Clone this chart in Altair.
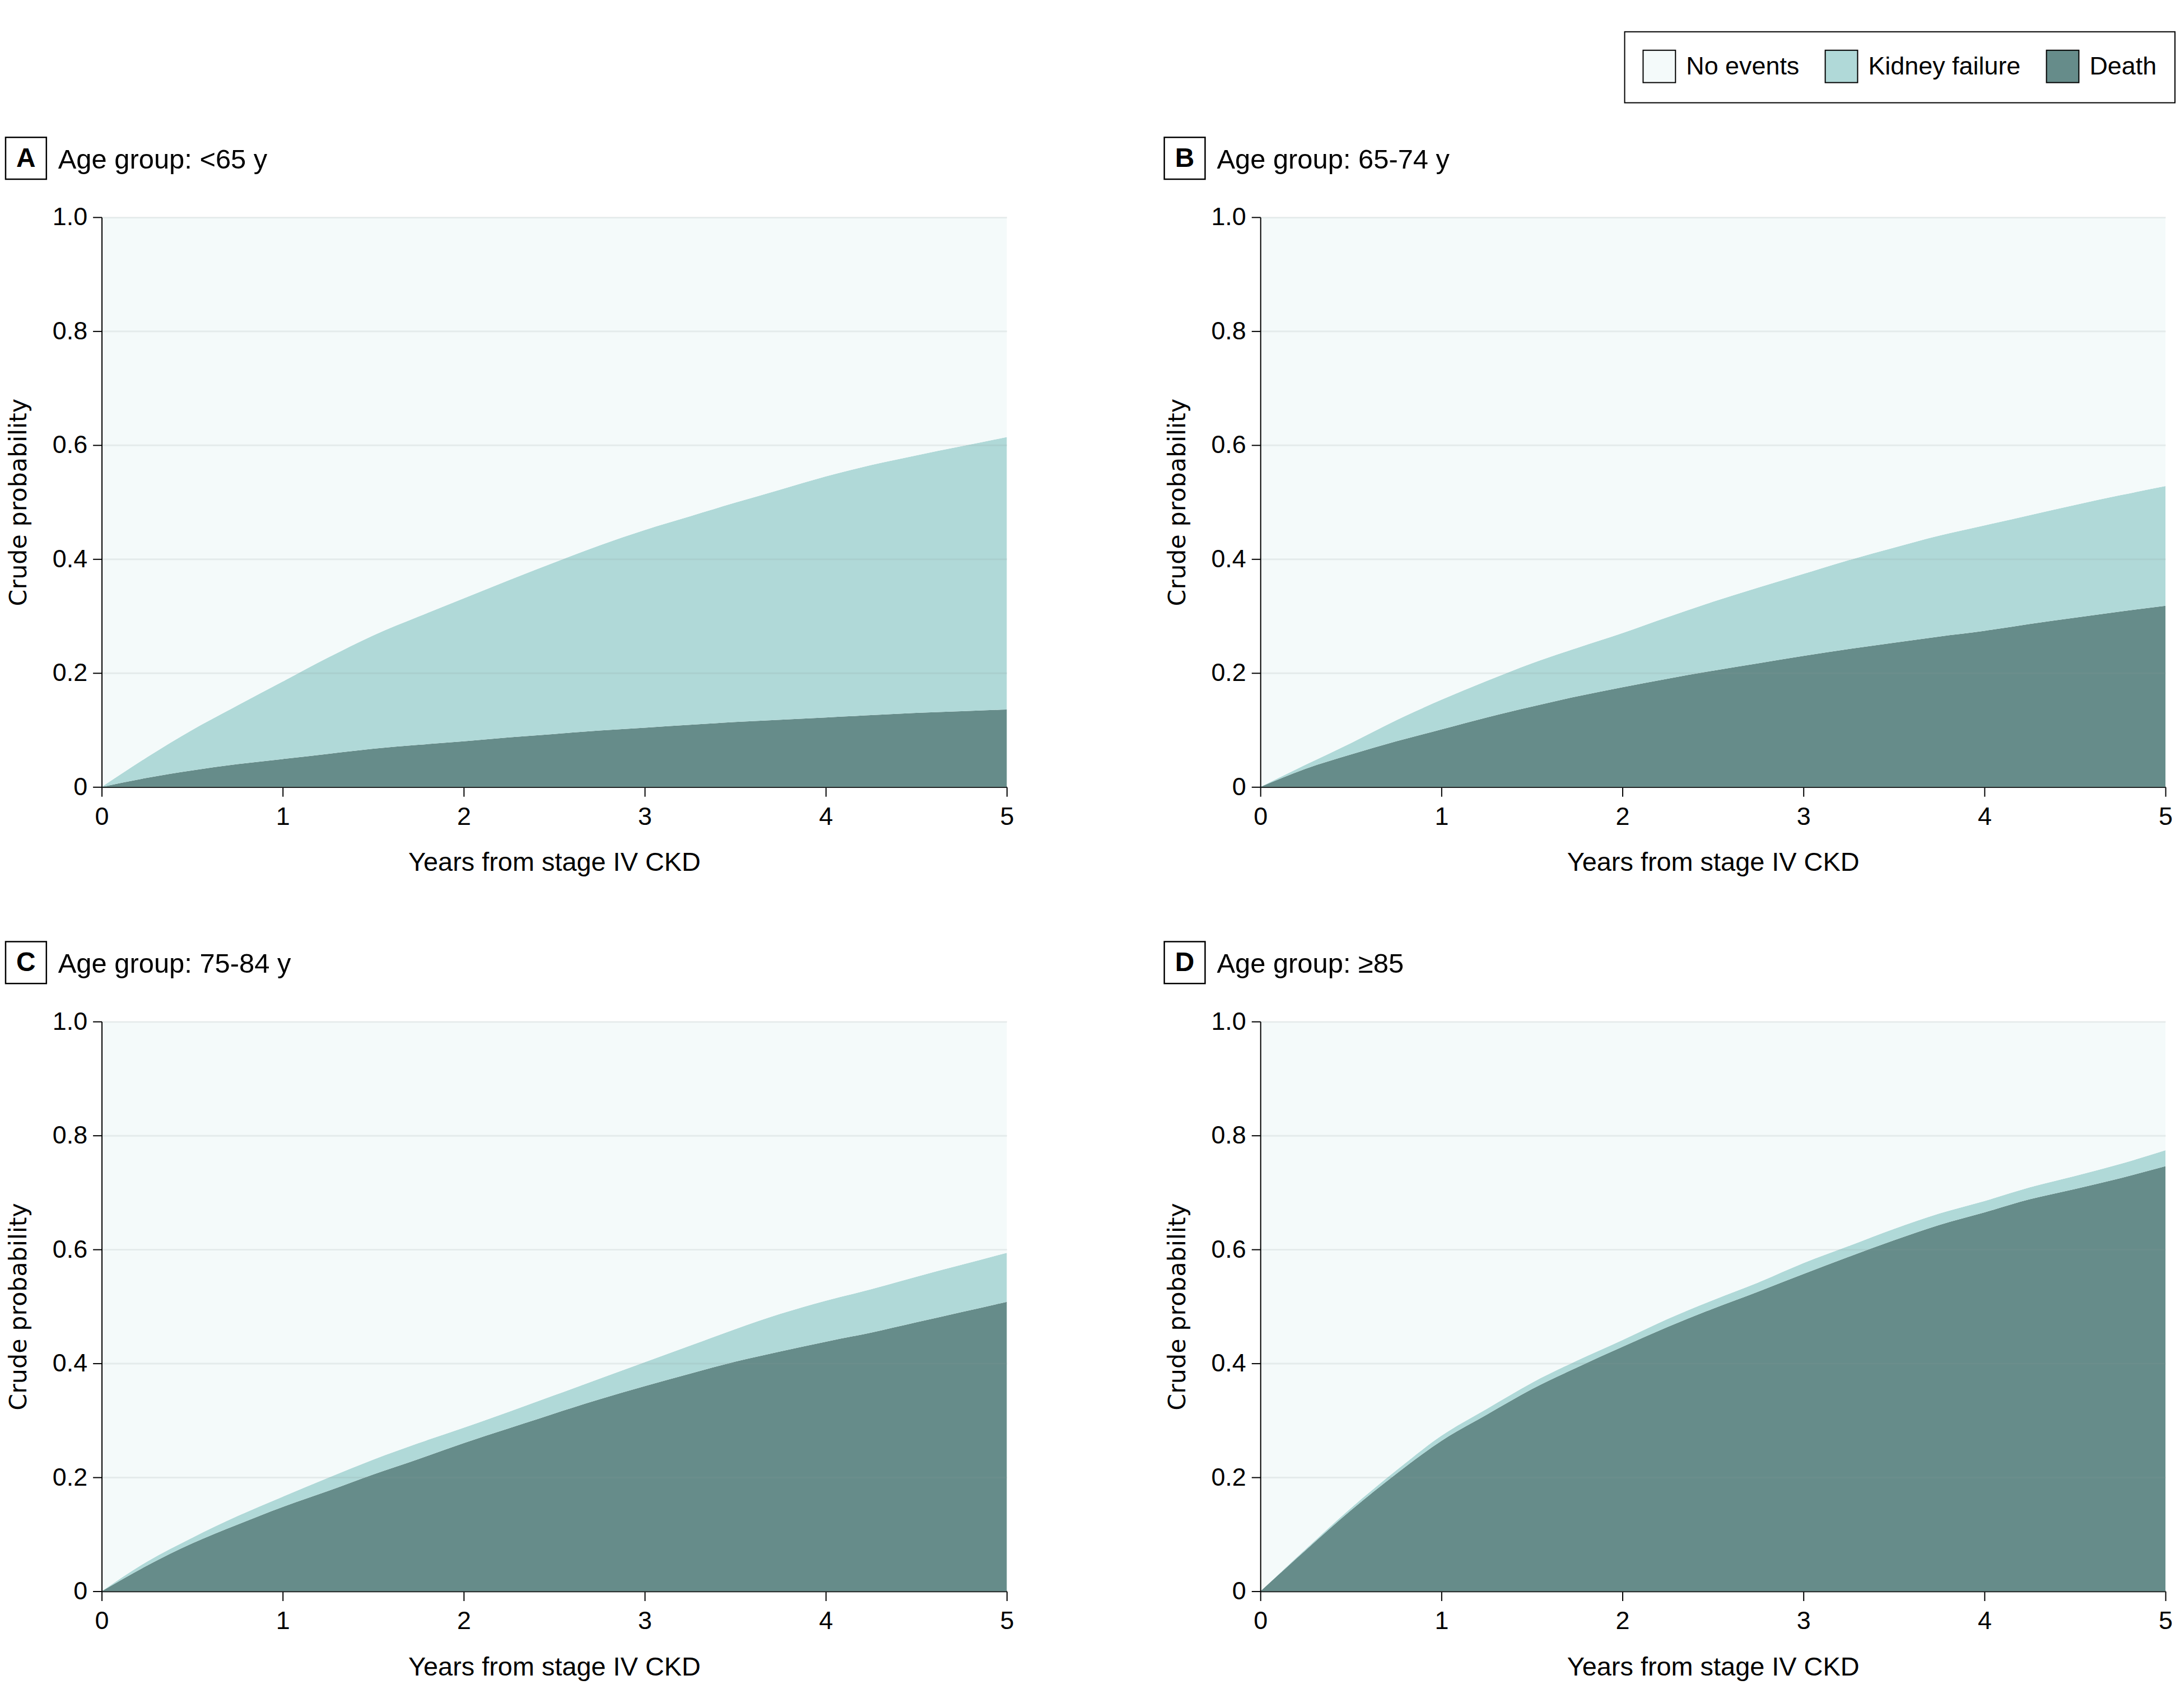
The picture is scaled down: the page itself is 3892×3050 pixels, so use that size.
import altair as alt
import pandas as pd

FONT = "Liberation Sans"

years = [0, 0.25, 0.5, 0.75, 1, 1.25, 1.5, 1.75, 2, 2.25, 2.5, 2.75, 3,
         3.25, 3.5, 3.75, 4, 4.25, 4.5, 4.75, 5]

# cumulative probability of death
death_a = [0, 0.016, 0.029, 0.040, 0.049, 0.058, 0.067, 0.074, 0.080, 0.087, 0.093,
           0.099, 0.104, 0.109, 0.114, 0.118, 0.122, 0.126, 0.130, 0.133, 0.136]
death_b = [0, 0.032, 0.057, 0.080, 0.101, 0.122, 0.141, 0.159, 0.175, 0.190, 0.204,
           0.217, 0.230, 0.242, 0.253, 0.264, 0.274, 0.286, 0.297, 0.308, 0.318]
death_c = [0, 0.045, 0.084, 0.117, 0.148, 0.176, 0.205, 0.232, 0.260, 0.286, 0.312,
           0.337, 0.360, 0.382, 0.403, 0.421, 0.438, 0.454, 0.472, 0.490, 0.508]
death_d = [0, 0.072, 0.142, 0.206, 0.264, 0.310, 0.355, 0.393, 0.429, 0.464, 0.496,
           0.526, 0.557, 0.587, 0.616, 0.643, 0.665, 0.688, 0.706, 0.725, 0.746]

# cumulative probability of death or kidney failure (top of the kidney failure band)
event_a = [0, 0.052, 0.100, 0.143, 0.185, 0.227, 0.266, 0.299, 0.331, 0.363, 0.394,
           0.424, 0.451, 0.475, 0.499, 0.522, 0.545, 0.565, 0.582, 0.598, 0.614]
event_b = [0, 0.039, 0.077, 0.117, 0.153, 0.186, 0.217, 0.244, 0.270, 0.298, 0.325,
           0.350, 0.374, 0.398, 0.420, 0.441, 0.459, 0.477, 0.495, 0.512, 0.528]
event_c = [0, 0.052, 0.094, 0.132, 0.166, 0.199, 0.231, 0.260, 0.287, 0.315, 0.344,
           0.373, 0.402, 0.431, 0.460, 0.487, 0.510, 0.530, 0.552, 0.573, 0.594]
event_d = [0, 0.074, 0.146, 0.212, 0.273, 0.320, 0.366, 0.405, 0.441, 0.478, 0.511,
           0.542, 0.576, 0.606, 0.636, 0.663, 0.685, 0.709, 0.729, 0.750, 0.774]

panel_letters = ["A", "B", "C", "D"]
panel_titles = ["Age group: <65 y", "Age group: 65-74 y", "Age group: 75-84 y", "Age group: ≥85"]
categories = ["No events", "Kidney failure", "Death"]
colors = ["#f4fafa", "#b0d9d8", "#668c8a"]

deaths = [death_a, death_b, death_c, death_d]
events = [event_a, event_b, event_c, event_d]

W, H = 1620, 1020

legend = alt.Legend(
    title=None, orient="none", legendX=2726, legendY=-332, direction="horizontal",
    symbolType="square", symbolSize=3364, symbolStrokeColor="black", symbolStrokeWidth=2,
    symbolOpacity=1, labelFont=FONT, labelFontSize=45, labelColor="black", labelOffset=18,
    labelLimit=0, columnPadding=42, padding=32, strokeColor="black",
)

xaxis = alt.Axis(
    values=[0, 1, 2, 3, 4, 5], format="d", title="Years from stage IV CKD", grid=False,
    domainColor="black", domainWidth=2.5, tickColor="black", tickWidth=2, tickSize=17,
    labelPadding=14, labelFont=FONT, labelFontSize=45, labelColor="black", labelFlush=False,
    titleFont=FONT, titleFontSize=47, titleFontWeight="normal", titleColor="black",
    titleX=W / 2, titleY=150, titleBaseline="alphabetic", titleAlign="center",
)
yaxis = alt.Axis(
    values=[0, 0.2, 0.4, 0.6, 0.8, 1.0],
    labelExpr="datum.value == 0 ? '0' : format(datum.value, '.1f')",
    title="Crude probability", grid=True, gridColor="#8a9a9a", gridOpacity=0.15, gridWidth=3,
    domainColor="black", domainWidth=2, tickColor="black", tickWidth=2, tickSize=16,
    labelPadding=10, labelFont=FONT, labelFontSize=45, labelColor="black", labelFlush=False,
    titleFont="DejaVu Sans", titleFontSize=43, titleFontWeight="normal", titleColor="black",
    titleX=-148, titleY=H / 2, titleAngle=270, titleBaseline="middle", titleAlign="center",
    zindex=1,
)


def panel(i):
    rows = []
    for t, d, e in zip(years, deaths[i], events[i]):
        rows.append({"t": t, "cat": "Death", "lo": 0.0, "hi": d})
        rows.append({"t": t, "cat": "Kidney failure", "lo": d, "hi": e})
        rows.append({"t": t, "cat": "No events", "lo": e, "hi": 1.0})
    df = pd.DataFrame(rows)
    areas = alt.Chart(df).mark_area(interpolate="monotone", opacity=1).encode(
        x=alt.X("t:Q", scale=alt.Scale(domain=[0, 5], nice=False, zero=False), axis=xaxis),
        y=alt.Y("lo:Q", scale=alt.Scale(domain=[0, 1], nice=False), axis=yaxis),
        y2="hi:Q",
        color=alt.Color("cat:N", scale=alt.Scale(domain=categories, range=colors), legend=legend),
    )
    lab = pd.DataFrame({"letter": [panel_letters[i]], "title": [panel_titles[i]]})
    box = alt.Chart(lab).mark_rect(fill="white", stroke="black", strokeWidth=2.5).encode(
        x=alt.value(-172), x2=alt.value(-99), y=alt.value(-143), y2=alt.value(-68)
    )
    letter = alt.Chart(lab).mark_text(
        font=FONT, fontWeight="bold", fontSize=48, align="center", baseline="middle", color="black"
    ).encode(x=alt.value(-135.5), y=alt.value(-104), text="letter:N")
    title = alt.Chart(lab).mark_text(
        font=FONT, fontSize=49, align="left", baseline="alphabetic", color="black"
    ).encode(x=alt.value(-78), y=alt.value(-87), text="title:N")
    return alt.layer(areas, box, letter, title).properties(width=W, height=H)


chart = alt.concat(
    *[panel(i) for i in range(4)],
    columns=2,
    spacing=alt.RowColnumber(row=420, column=454),
    bounds="flush",
    padding={"top": 44, "left": 0, "right": 0, "bottom": 0},
).configure_view(strokeWidth=0).configure_legend(strokeWidth=2)

chart.save("out.html", embed_options={"renderer": "svg", "actions": False})
